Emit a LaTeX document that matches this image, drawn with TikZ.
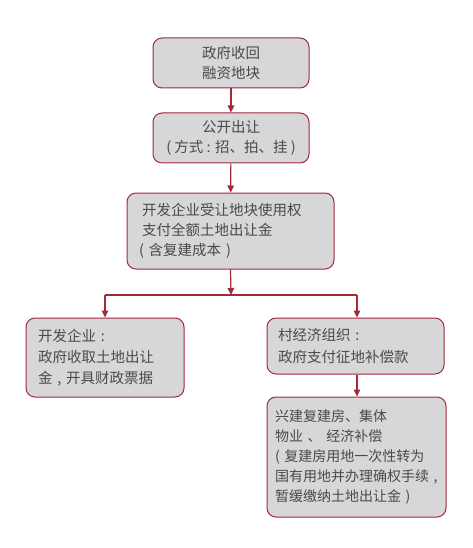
\documentclass[tikz,border=0pt]{standalone}
\usepackage{fontspec}
\setmainfont{Noto Sans CJK SC}
\usetikzlibrary{arrows.meta}
\definecolor{boxfill}{HTML}{D7D7D9}
\definecolor{boxline}{HTML}{A3293B}
\definecolor{txt}{HTML}{4A4A4A}
\tikzset{
  box/.style={draw=boxline, line width=1pt, fill=boxfill, rounded corners=9pt,
    text=txt, font=\fontsize{14.5}{20}\selectfont, inner ysep=0pt},
  conn/.style={draw=boxline, line width=1.2pt},
  arr/.style={conn, -{Triangle[length=7pt,width=6.5pt]}}
}
\begin{document}
\begin{tikzpicture}[x=1pt,y=-1pt]
\useasboundingbox[fill=white] (0,0) rectangle (472,548);
\node[box, minimum width=156pt, minimum height=50pt, align=center] (b1) at (231,63) {政府收回\\融资地块};
\node[box, minimum width=156pt, minimum height=50pt, align=center] (b2) at (231,138) {公开出让\\( 方式 : 招、拍、挂 )};
\node[box, minimum width=207pt, minimum height=76pt, inner xsep=15pt, text width=177pt, align=left] (b3) at (230.5,231) {开发企业受让地块使用权\\支付全额土地出让金\\\hspace*{-3pt}( 含复建成本 )};
\node[box, minimum width=158pt, minimum height=79pt, inner xsep=12pt, text width=134pt, align=left, font=\fontsize{14.5}{21}\selectfont] (b4) at (105,357.5) {开发企业 :\\政府收取土地出让\\金 , 开具财政票据};
\node[box, minimum width=177pt, minimum height=56pt, inner xsep=11pt, text width=155pt, align=left, font=\fontsize{14.5}{22}\selectfont] (b5) at (355.5,346) {村经济组织 :\\政府支付征地补偿款};
\node[box, minimum width=179pt, minimum height=120pt, inner xsep=8pt, text width=163pt, align=left, font=\fontsize{14}{20}\selectfont] (b6) at (356.5,457) {兴建复建房、集体\\物业 、 经济补偿\\( 复建房用地一次性转为\\国有用地并办理确权手续 ,\\暂缓缴纳土地出让金 )};
\coordinate (split) at (231,295);
\coordinate (L) at (105,295);
\coordinate (R) at (357,295);
\draw[arr] (b1) -- (b2);
\draw[arr] (b2) -- (b3);
\draw[arr] (b3.south) -- (split);
\draw[conn] (L) -- (R);
\draw[arr] (L) -- (b4.north);
\draw[arr] (R) -- (R |- b5.north);
\draw[arr] (b5.south -| R) -- (R |- b6.north);
\end{tikzpicture}
\end{document}
